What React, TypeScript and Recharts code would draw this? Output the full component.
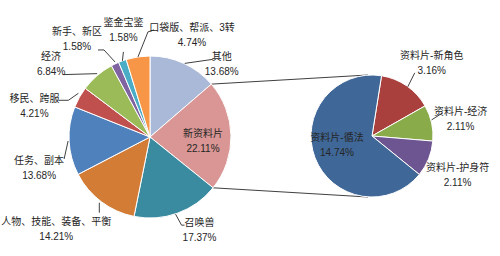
import React from 'react';
import { PieChart, Pie, Cell, Customized } from 'recharts';

const mainNames = ['其他', '新资料片', '召唤兽', '人物、技能、装备、平衡', '任务、副本', '移民、跨服', '经济', '新手、新区', '鉴金宝鉴', '口袋版、帮派、3转'];
const mainValues = [13.68, 22.11, 17.37, 14.21, 13.68, 4.21, 6.84, 1.58, 1.58, 4.74];
const subNames = ['资料片-新角色', '资料片-经济', '资料片-护身符', '资料片-循法'];
const subValues = [3.16, 2.11, 2.11, 14.74];

const mainColors = ['#aab9d8', '#d99694', '#3a8ba0', '#d27c35', '#4f81bd', '#c0504d', '#9bbb59', '#8064a2', '#4bacc6', '#f79646'];
const subColors = ['#a9403d', '#8aab4a', '#6c5590', '#3f6797'];

const mainData = mainNames.map((name, i) => ({ name, value: mainValues[i] }));
const subData = subNames.map((name, i) => ({ name, value: subValues[i] }));

const W = 500;
const H = 256;
const C1 = { cx: 150, cy: 137, r: 81 };
const C2 = { cx: 372, cy: 136, r: 61 };
const FONT = '"Liberation Sans", "Noto Sans CJK SC", sans-serif';
const TEXT = '#262626';
const LINE = '#404040';

type Layout = { dx: number; dy: number; leader?: number[][] };

const mainLayout: Layout[] = [
  { dx: 38, dy: -7, leader: [[1, 0], [29, -4]] },
  { dx: -28, dy: -2 },
  { dx: 22, dy: 9, leader: [[-2, 1], [4, 12], [7, 12]] },
  { dx: -45, dy: 20, leader: [[-2, 1], [-2, 11]] },
  { dx: -30, dy: 19, leader: [[-1, 0], [-5, 18]] },
  { dx: -45, dy: 1, leader: [[-1, -4], [-11, 3], [-21, 3]] },
  { dx: -46, dy: -19, leader: [[0, -2], [-34, -1]] },
  { dx: -38, dy: -32, leader: [[0, -2], [-11, -14], [-17, -14]] },
  { dx: 1, dy: -38, leader: [[0, 0], [1, -9]] },
  { dx: 54, dy: -29, leader: [[0, 0], [10, -25], [16, -27]] },
];

const subLayout: Layout[] = [
  { dx: 25, dy: -30, leader: [[1, 1], [8, -13]] },
  { dx: 29, dy: -11, leader: [[0, -3], [11, -10]] },
  { dx: 29, dy: 9 },
  { dx: 22, dy: -20 },
];

const RAD = Math.PI / 180;

const makeLabel = (layout: Layout[]) => (props: any) => {
  const { cx, cy, midAngle, outerRadius, index, name, value } = props;
  const ex = cx + outerRadius * Math.cos(-midAngle * RAD);
  const ey = cy + outerRadius * Math.sin(-midAngle * RAD);
  const l = layout[index];
  const tx = ex + l.dx;
  const ty = ey + l.dy;
  return (
    <g key={`lbl-${index}`}>
      {l.leader && (
        <polyline
          points={l.leader.map((p) => `${ex + p[0]},${ey + p[1]}`).join(' ')}
          fill="none"
          stroke={LINE}
          strokeWidth={1}
        />
      )}
      <text x={tx} y={ty} textAnchor="middle" dominantBaseline="central" fontSize={10} fontFamily={FONT} fill={TEXT}>
        {name}
      </text>
      <text x={tx} y={ty + 15} textAnchor="middle" dominantBaseline="central" fontSize={10} fontFamily={FONT} fill={TEXT}>
        {`${Number(value).toFixed(2)}%`}
      </text>
    </g>
  );
};

const Connectors = () => {
  const total = mainValues.reduce((a, b) => a + b, 0);
  const a1 = 90 - (mainValues[0] / total) * 360;
  const a2 = 90 - ((mainValues[0] + mainValues[1]) / total) * 360;
  const p1 = [C1.cx + C1.r * Math.cos(a1 * RAD), C1.cy - C1.r * Math.sin(a1 * RAD)];
  const p2 = [C1.cx + C1.r * Math.cos(a2 * RAD), C1.cy - C1.r * Math.sin(a2 * RAD)];
  return (
    <g>
      <line x1={p1[0]} y1={p1[1]} x2={C2.cx - 4} y2={C2.cy - C2.r} stroke={LINE} strokeWidth={1} />
      <line x1={p2[0]} y1={p2[1]} x2={C2.cx - 4} y2={C2.cy + C2.r} stroke={LINE} strokeWidth={1} />
    </g>
  );
};

export default function App() {
  return (
    <div style={{ position: 'absolute', left: 0, top: 0, width: W, height: H, background: '#fff' }}>
      <PieChart width={W} height={H} margin={{ top: 0, right: 0, bottom: 0, left: 0 }}>
        <Customized component={Connectors} />
        <Pie
          data={mainData}
          dataKey="value"
          nameKey="name"
          cx={C1.cx}
          cy={C1.cy}
          outerRadius={C1.r}
          startAngle={90}
          endAngle={-270}
          stroke="#ffffff"
          strokeWidth={1}
          isAnimationActive={false}
          labelLine={false}
          label={makeLabel(mainLayout)}
        >
          {mainData.map((d, i) => (
            <Cell key={d.name} fill={mainColors[i]} />
          ))}
        </Pie>
        <Pie
          data={subData}
          dataKey="value"
          nameKey="name"
          cx={C2.cx}
          cy={C2.cy}
          outerRadius={C2.r}
          startAngle={81}
          endAngle={-279}
          stroke="#ffffff"
          strokeWidth={1}
          isAnimationActive={false}
          labelLine={false}
          label={makeLabel(subLayout)}
        >
          {subData.map((d, i) => (
            <Cell key={d.name} fill={subColors[i]} />
          ))}
        </Pie>
      </PieChart>
    </div>
  );
}
